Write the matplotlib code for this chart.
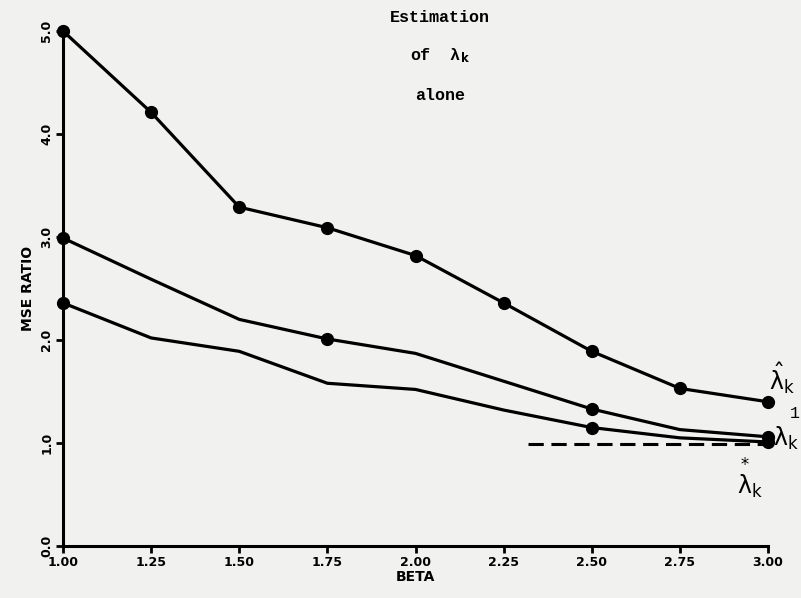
import matplotlib
matplotlib.use("Agg")
import matplotlib.pyplot as plt

plt.rcParams["mathtext.default"] = "regular"

beta = [1.00, 1.25, 1.50, 1.75, 2.00, 2.25, 2.50, 2.75, 3.00]
top_vals = [5.00, 4.21, 3.29, 3.09, 2.82, 2.36, 1.89, 1.53, 1.40]
mid_vals = [2.99, 2.59, 2.20, 2.01, 1.87, 1.60, 1.33, 1.13, 1.06]
low_vals = [2.36, 2.02, 1.89, 1.58, 1.52, 1.32, 1.15, 1.05, 1.01]
dash_x = [2.32, 3.00]
dash_y = [0.99, 0.99]
xticks = [1.00, 1.25, 1.50, 1.75, 2.00, 2.25, 2.50, 2.75, 3.00]
xtick_labels = ["1.00", "1.25", "1.50", "1.75", "2.00", "2.25", "2.50", "2.75", "3.00"]
yticks = [0, 1, 2, 3, 4, 5]
ytick_labels = ["0.0", "1.0", "2.0", "3.0", "4.0", "5.0"]

bg = "#f1f1ef"
fig = plt.figure(figsize=(8.01, 5.98), dpi=100, facecolor=bg)
ax = fig.add_axes([63/801, 1-546/598, (768-63)/801, (546-31)/598])
ax.set_facecolor(bg)

lw = 2.3
ms = 8.5
ax.plot(beta, top_vals, color="black", lw=lw, marker="o", ms=ms, clip_on=False, zorder=3)
ax.plot(beta, mid_vals, color="black", lw=lw, marker="o", ms=ms, markevery=[0, 3, 6, 8], clip_on=False, zorder=3)
ax.plot(beta, low_vals, color="black", lw=lw, marker="o", ms=ms, markevery=[0, 6, 8], clip_on=False, zorder=3)
ax.plot(dash_x, dash_y, color="black", lw=2.2, ls=(0, (5, 2.5)), zorder=2)

ax.set_xlim(1.0, 3.0)
ax.set_ylim(0, 5)
for s in ["top", "right"]:
    ax.spines[s].set_visible(False)
for s in ["left", "bottom"]:
    ax.spines[s].set_linewidth(2.2)
ax.set_xticks(xticks)
ax.set_xticklabels(xtick_labels, fontsize=9, fontweight="bold")
ax.set_yticks(yticks)
ax.set_yticklabels(ytick_labels, fontsize=9, fontweight="bold", rotation=90, va="center")
ax.tick_params(axis="both", length=5, width=2, direction="out", pad=2)

ax.set_xlabel("BETA", fontsize=10, fontweight="bold", labelpad=1)
ax.set_ylabel("MSE RATIO", fontsize=10, fontweight="bold", labelpad=4)

mono = "Liberation Mono"
fig.text(440/801, 1-18/598, "Estimation", ha="center", va="center", fontsize=12, family=mono, fontweight="bold")
fig.text(440/801, 1-56/598, r"of  $\lambda_{\mathbf{k}}$", ha="center", va="center", fontsize=12, family=mono, fontweight="bold")
fig.text(440/801, 1-95/598, "alone", ha="center", va="center", fontsize=12, family=mono, fontweight="bold")

fig.text(782/801, 1-378/598, r"$\hat{\lambda}_{k}$", ha="center", va="center", fontsize=17)
fig.text(790/801, 1-414/598, "1", ha="left", va="center", fontsize=12, family=mono)
fig.text(786/801, 1-438/598, r"$\lambda_{k}$", ha="center", va="center", fontsize=17)
fig.text(750/801, 1-478/598, r"$\overset{*}{\lambda}_{k}$", ha="center", va="center", fontsize=17)

fig.savefig("out.png", dpi=100, facecolor=bg)
